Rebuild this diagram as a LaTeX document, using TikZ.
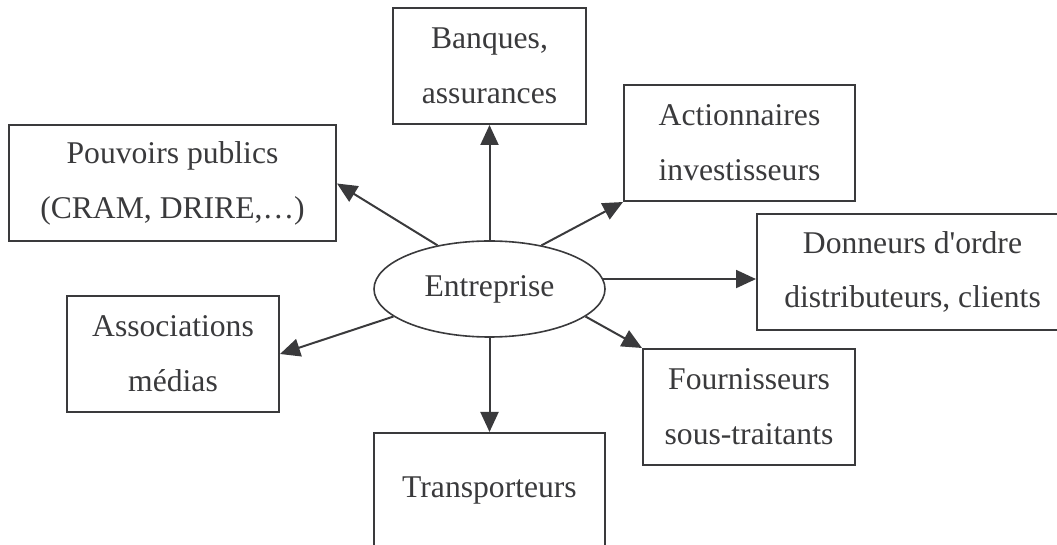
\documentclass[tikz,border=0pt]{standalone}
\usepackage{fontspec}
\setmainfont{Liberation Serif}
\usepackage{xcolor}
\usepackage{tikz}
\usetikzlibrary{arrows.meta, shapes.geometric}

\definecolor{ink}{HTML}{3A3A3C}

\begin{document}
\begin{tikzpicture}[every node/.style={draw=ink, text=ink, line width=0.05cm, inner sep=2pt, align=center, minimum height=2.9cm, font=\fontsize{22.5}{39}\selectfont},
    arr/.style={draw=ink, line width=0.05cm, -{Triangle[length=0.5cm, width=0.45cm]}, ink}]
    \useasboundingbox (0,0) rectangle (26.425,13.6);

    \node[ellipse, line width=0.04cm, minimum width=5.775cm, minimum height=2.4cm, inner sep=0pt] (ent) at (12.2375,6.375) {Entreprise};
    \node[minimum width=4.825cm] (banq) at (12.2375,11.95) {Banques,\\assurances};
    \node[minimum width=8.175cm] (pouv) at (4.3125,9.0125) {Pouvoirs publics\\(CRAM, DRIRE,…)};
    \node[minimum width=5.775cm] (act) at (18.4875,10.025) {Actionnaires\\investisseurs};
    \node[minimum width=7.775cm] (donn) at (22.8125,6.8) {Donneurs d\textquotesingle ordre\\distributeurs, clients};
    \node[minimum width=5.3cm] (assoc) at (4.325,4.75) {Associations\\médias};
    \node[minimum width=5.3cm] (fourn) at (18.725,3.425) {Fournisseurs\\sous-traitants};
    \node[minimum width=5.775cm] (transp) at (12.2375,1.325) {Transporteurs};

    \draw[arr] (ent) -- (banq);
    \draw[arr] (ent.140) -- (pouv.east);
    \draw[arr] (ent.40) -- (act.south west);
    \draw[arr] (ent.5) -- (ent.5 -| donn.west);
    \draw[arr] (ent.196) -- (assoc.east);
    \draw[arr] (ent.-16) -- (fourn.north west);
    \draw[arr] (ent) -- (transp);
\end{tikzpicture}
\end{document}
